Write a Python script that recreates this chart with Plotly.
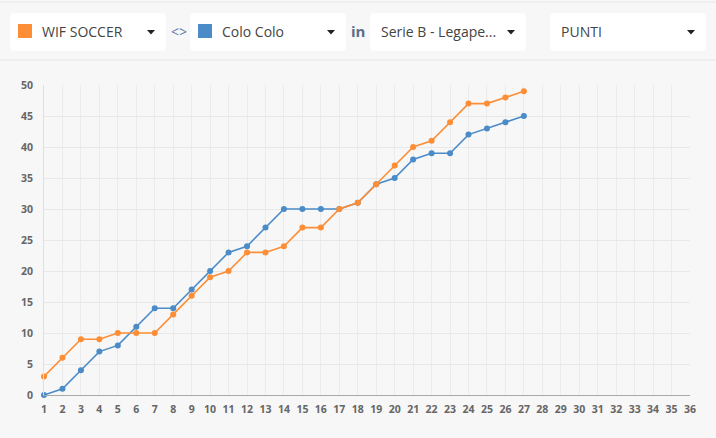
import plotly.graph_objects as go

# giornate e punti cumulati
giornate = list(range(1, 28))
wif_soccer = [3, 6, 9, 9, 10, 10, 10, 13, 16, 19, 20, 23, 23, 24, 27, 27, 30, 31,
              34, 37, 40, 41, 44, 47, 47, 48, 49]
colo_colo = [0, 1, 4, 7, 8, 11, 14, 14, 17, 20, 23, 24, 27, 30, 30, 30, 30, 31,
             34, 35, 38, 39, 39, 42, 43, 44, 45]
x_ticks = list(range(1, 37))
y_ticks = [0, 5, 10, 15, 20, 25, 30, 35, 40, 45, 50]

squadra_a = "WIF SOCCER"
squadra_b = "Colo Colo"
campionato = "Serie B - Legape..."
metrica = "PUNTI"

ORANGE = "#fd8e36"
BLUE = "#4a8bc8"

W, H = 716, 438
L, R, T, B = 44, 690, 85, 395


def px(x):
    return (x - L) / (R - L)


def py(y):
    return (B - y) / (B - T)


def rounded_box(x0, y0, x1, y1, r=4):
    # rettangolo arrotondato in coordinate paper
    X0, X1 = px(x0), px(x1)
    Y0, Y1 = py(y0), py(y1)
    rx = r / (R - L)
    ry = r / (B - T)
    return (f"M{X0 + rx},{Y0} L{X1 - rx},{Y0} Q{X1},{Y0} {X1},{Y0 - ry} "
            f"L{X1},{Y1 + ry} Q{X1},{Y1} {X1 - rx},{Y1} L{X0 + rx},{Y1} "
            f"Q{X0},{Y1} {X0},{Y1 + ry} L{X0},{Y0 - ry} Q{X0},{Y0} {X0 + rx},{Y0} Z")


def caret(cx, cy):
    return (f"M{px(cx - 4)},{py(cy - 2)} L{px(cx + 4)},{py(cy - 2)} "
            f"L{px(cx)},{py(cy + 2.5)} Z")


fig = go.Figure()

fig.add_trace(go.Scatter(
    x=giornate, y=colo_colo, mode="lines+markers", name=squadra_b,
    line=dict(color=BLUE, width=1.6), marker=dict(color=BLUE, size=6),
    cliponaxis=False,
))
fig.add_trace(go.Scatter(
    x=giornate, y=wif_soccer, mode="lines+markers", name=squadra_a,
    line=dict(color=ORANGE, width=1.6), marker=dict(color=ORANGE, size=6),
    cliponaxis=False,
))

shapes = []
# linee separatrici
for yy in (2, 60):
    shapes.append(dict(type="line", xref="paper", yref="paper",
                       x0=px(0), x1=px(W), y0=py(yy), y1=py(yy),
                       line=dict(color="#e6e6e6", width=1)))
# box dropdown
boxes = [(10, 166), (190, 346), (370, 526), (550, 706)]
for x0, x1 in boxes:
    shapes.append(dict(type="path", xref="paper", yref="paper",
                       path=rounded_box(x0, 13, x1, 51),
                       fillcolor="white", line=dict(width=0), layer="below"))
    shapes.append(dict(type="path", xref="paper", yref="paper",
                       path=caret(x1 - 15, 32), fillcolor="#222",
                       line=dict(width=0)))
# quadratini colore
for x0, col in ((18, ORANGE), (198, BLUE)):
    shapes.append(dict(type="rect", xref="paper", yref="paper",
                       x0=px(x0), x1=px(x0 + 14), y0=py(24), y1=py(38),
                       fillcolor=col, line=dict(width=0)))

annotations = []
labels = [(40, squadra_a), (220, squadra_b), (379, campionato), (559, metrica)]
for x0, txt in labels:
    annotations.append(dict(xref="paper", yref="paper", x=px(x0), y=py(31),
                            text=txt, showarrow=False, xanchor="left",
                            yanchor="middle",
                            font=dict(family="Open Sans", size=14, color="#444")))
annotations.append(dict(xref="paper", yref="paper", x=px(178.5), y=py(31),
                        text="&lt;&gt;", showarrow=False, xanchor="center",
                        yanchor="middle",
                        font=dict(family="Open Sans", size=14, color="#5f7fa6")))
annotations.append(dict(xref="paper", yref="paper", x=px(358), y=py(31),
                        text="<b>in</b>", showarrow=False, xanchor="center",
                        yanchor="middle",
                        font=dict(family="Open Sans", size=15, color="#5b6d8c")))

fig.update_layout(
    width=W, height=H,
    margin=dict(l=L, r=W - R, t=T, b=H - B),
    paper_bgcolor="#f7f7f7", plot_bgcolor="#f7f7f7",
    showlegend=False,
    shapes=shapes, annotations=annotations,
    xaxis=dict(range=[1, 36], tickvals=x_ticks, showgrid=True,
               gridcolor="#ebebeb", gridwidth=1, zeroline=False,
               showline=True, linecolor="#a8a8a8", linewidth=1,
               tickfont=dict(family="Open Sans", size=10.5, color="#666",
                             weight="bold"),
               ticks="", ticklabelstandoff=4, fixedrange=True),
    yaxis=dict(range=[0, 50], tickvals=y_ticks, showgrid=True,
               gridcolor="#e8e8e8", gridwidth=1, zeroline=False,
               showline=True, linecolor="#e0e0e0", linewidth=1,
               tickfont=dict(family="Open Sans", size=10.5, color="#666",
                             weight="bold"),
               ticks="", ticklabelstandoff=8, fixedrange=True),
)

# niente margine della pagina, cosi' la figura parte da (0, 0)
fig.write_html("out.html",
               config=dict(displayModeBar=False),
               post_script="document.body.style.margin='0';"
                           "document.body.style.overflow='hidden';"
                           "document.body.style.background='#f7f7f7';")
